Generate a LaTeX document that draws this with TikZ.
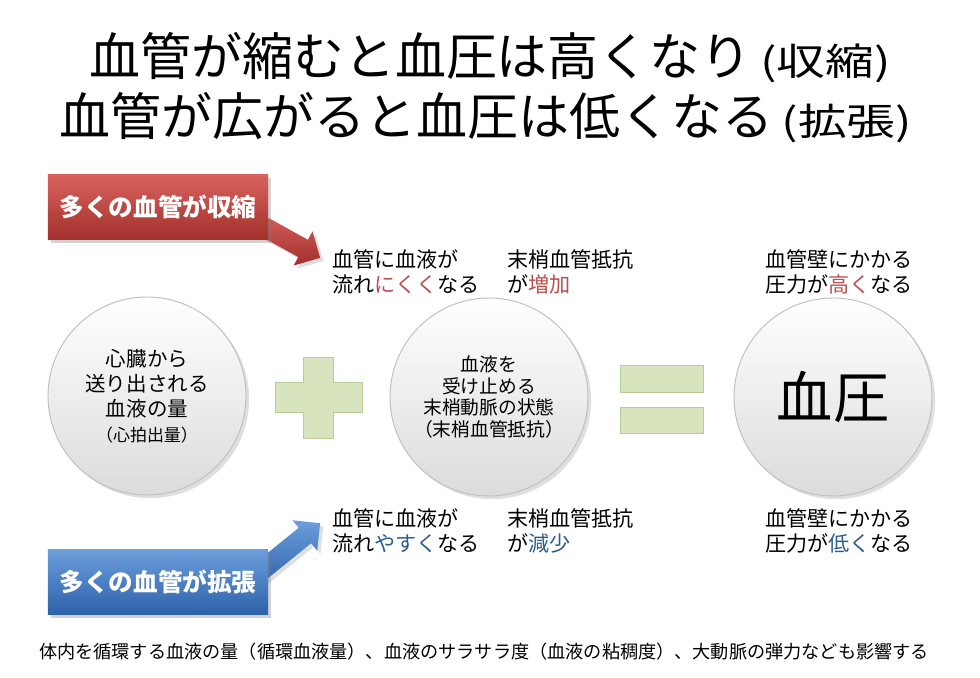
\documentclass[tikz,border=0pt]{standalone}
\usepackage{fontspec}
\usepackage{graphicx}
\setmainfont{Noto Sans CJK JP}
\usetikzlibrary{shapes.arrows,shadows}
\definecolor{redtop}{HTML}{D8625E}
\definecolor{redbot}{HTML}{A3302C}
\definecolor{bluetop}{HTML}{6C9EDB}
\definecolor{bluebot}{HTML}{2D61AA}
\definecolor{upred}{HTML}{B9504D}
\definecolor{downblue}{HTML}{2C5C8F}
\definecolor{signgreen}{HTML}{D7E4BD}
\definecolor{signedge}{HTML}{B9CC94}
\newcommand\aside[1]{\,{\fontsize{32}{36}\selectfont\scalebox{1.3}[1]{(#1)}}}
\tikzset{
title/.style={font=\fontsize{43.5}{48}\selectfont,inner sep=0pt},
banner/.style={minimum width=66mm,minimum height=19.5mm,inner sep=0pt,
  font=\fontsize{21}{24}\selectfont\bfseries,text=white,drop shadow={opacity=.35}},
bigarrow/.style={single arrow,single arrow head extend=2.9mm,inner xsep=0pt,
  inner ysep=2.9mm,anchor=tail,drop shadow={opacity=.25}},
disc/.style={circle,minimum size=59.4mm,inner sep=0pt,draw=black!25,line width=.8pt,
  top color=white,bottom color=black!14,drop shadow={opacity=.25},align=center},
lbl/.style={font=\fontsize{18}{21.5}\selectfont,align=left,anchor=west,inner sep=0pt},
sign/.style={fill=signgreen,draw=signedge,line width=.6pt},
note/.style={font=\fontsize{15.5}{18}\selectfont,inner sep=0pt}
}
\begin{document}
\begin{tikzpicture}[x=0.3mm,y=-0.3mm]
\fill[white] (0,0) rectangle (980,678);
\useasboundingbox (0,0) rectangle (980,678);
% title
\node[title] (head1) at (490,58) {血管が縮むと血圧は高くなり\aside{収縮}};
\node[title] (head2) at (486,118) {血管が広がると血圧は低くなる\aside{拡張}};
% arrows behind the banners
\node[bigarrow,rotate=-29,minimum height=24mm,top color=redtop,bottom color=redbot] (uparrow) at (250,219) {};
\node[bigarrow,rotate=39,minimum height=27mm,top color=bluetop,bottom color=bluebot] (downarrow) at (250,580) {};
\node[banner,top color=redtop,bottom color=redbot] (shrink) at (158,207) {多くの血管が収縮};
\node[banner,top color=bluetop,bottom color=bluebot] (widen) at (158,582) {多くの血管が拡張};
% the three discs
\node[disc,font=\fontsize{17.5}{21.3}\selectfont] (output) at (147,396)
  {心臓から\\送り出される\\血液の量\\{\fontsize{14.5}{21.3}\selectfont （心拍出量）}};
\node[disc,font=\fontsize{16}{18.3}\selectfont] (resist) at (489,397)
  {血液を\\受け止める\\末梢動脈の状態\\（末梢血管抵抗）};
\node[disc,font=\fontsize{48}{52}\selectfont] (pressure) at (833,397) {血圧};
% plus and equals
\draw[sign] (303,357) -- (333,357) -- (333,382) -- (362,382) -- (362,412) -- (333,412)
  -- (333,438) -- (303,438) -- (303,412) -- (275,412) -- (275,382) -- (303,382) -- cycle;
\draw[sign] (620,365) rectangle (703,392);
\draw[sign] (620,407) rectangle (703,433);
% labels
\node[lbl] (flowup) at (332,272) {血管に血液が\\流れ\textcolor{upred}{にくく}なる};
\node[lbl] (resup) at (507,272) {末梢血管抵抗\\が\textcolor{upred}{増加}};
\node[lbl] (wallup) at (765,272) {血管壁にかかる\\圧力が\textcolor{upred}{高く}なる};
\node[lbl] (flowdown) at (332,531) {血管に血液が\\流れ\textcolor{downblue}{やすく}なる};
\node[lbl] (resdown) at (507,531) {末梢血管抵抗\\が\textcolor{downblue}{減少}};
\node[lbl] (walldown) at (765,531) {血管壁にかかる\\圧力が\textcolor{downblue}{低く}なる};
\node[note] (remark) at (484,652) {体内を循環する血液の量（循環血液量）、血液のサラサラ度（血液の粘稠度）、大動脈の弾力なども影響する};
\end{tikzpicture}
\end{document}
